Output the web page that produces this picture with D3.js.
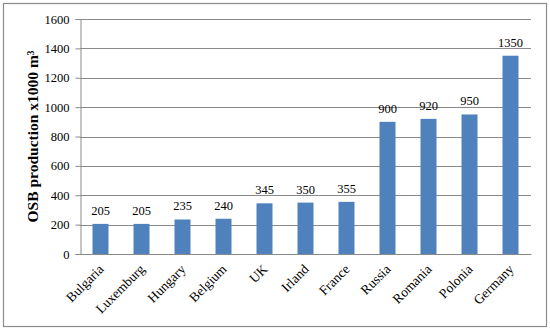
<!DOCTYPE html>
<html>
<head>
<meta charset="utf-8">
<script src="https://d3js.org/d3.v7.min.js"></script>
<style>
  body { margin: 0; background: #fff; }
  svg text { font-family: "Liberation Serif", "DejaVu Serif", serif; fill: #000; }
</style>
</head>
<body>
<div id="chart"></div>
<script>
// chart data
const countries = ['Bulgaria', 'Luxemburg', 'Hungary', 'Belgium', 'UK', 'Irland',
    'France', 'Russia', 'Romania', 'Polonia', 'Germany'];
const production = [205, 205, 235, 240, 345, 350, 355, 900, 920, 950, 1350];
const yTicks = [0, 200, 400, 600, 800, 1000, 1200, 1400, 1600];

const W = 550, H = 331;
const margin = { top: 19, right: 19, bottom: 77, left: 80 };
const width = W - margin.left - margin.right;
const height = H - margin.top - margin.bottom;

const svg = d3.select('#chart').append('svg')
    .attr('width', W)
    .attr('height', H);

// outer frame
svg.append('rect')
    .attr('x', 3.5).attr('y', 3.5)
    .attr('width', 543).attr('height', 323)
    .attr('fill', '#fff')
    .attr('stroke', '#8c8c8c')
    .attr('stroke-width', 1.2);

const g = svg.append('g')
    .attr('transform', `translate(${margin.left},${margin.top})`);

const x = d3.scaleBand()
    .domain(countries)
    .range([0, width])
    .paddingInner(0.61)
    .paddingOuter(0.305);

const y = d3.scaleLinear()
    .domain([0, 1600])
    .range([height, 0]);

// gridlines
g.append('g')
    .selectAll('line')
    .data(yTicks)
    .join('line')
    .attr('x1', 0).attr('x2', width)
    .attr('y1', d => Math.round(y(d)) + 0.5)
    .attr('y2', d => Math.round(y(d)) + 0.5)
    .attr('stroke', '#8a8a8a')
    .attr('stroke-width', 1);

// y axis
const yAxis = g.append('g')
    .attr('transform', 'translate(0.5,0)')
    .call(d3.axisLeft(y).tickValues(yTicks).tickSize(5).tickPadding(6).tickFormat(d3.format('d')));
yAxis.selectAll('path, line').attr('stroke', '#8a8a8a');
yAxis.selectAll('text').style('font-size', '12.5px').style('font-family', '"Liberation Serif", serif');

// bars
g.selectAll('.bar')
    .data(production)
    .join('rect')
    .attr('class', 'bar')
    .attr('x', (d, i) => x(countries[i]))
    .attr('y', d => y(d))
    .attr('width', x.bandwidth())
    .attr('height', d => height - y(d))
    .attr('fill', '#4f81bd');

// value labels
g.selectAll('.val')
    .data(production)
    .join('text')
    .attr('class', 'val')
    .attr('x', (d, i) => x(countries[i]) + x.bandwidth() / 2)
    .attr('y', d => y(d) - 9)
    .attr('text-anchor', 'middle')
    .style('font-size', '12.5px')
    .text(d => d);

// x axis
const xAxis = g.append('g')
    .attr('transform', `translate(0,${height})`)
    .call(d3.axisBottom(x).tickSize(0).tickFormat(''));
xAxis.select('.domain').attr('stroke', '#8a8a8a');

g.selectAll('.xlab')
    .data(countries)
    .join('text')
    .attr('class', 'xlab')
    .attr('text-anchor', 'end')
    .attr('transform', d => `translate(${x(d) + x.bandwidth() / 2 + 4},${height + 16}) rotate(-45)`)
    .style('font-size', '13.5px')
    .text(d => d);

// y title
svg.append('text')
    .attr('transform', `translate(38,${margin.top + height / 2}) rotate(-90)`)
    .attr('text-anchor', 'middle')
    .style('font-size', '15.5px')
    .style('font-weight', 'bold')
    .text('OSB production x1000 m³');
</script>
</body>
</html>
